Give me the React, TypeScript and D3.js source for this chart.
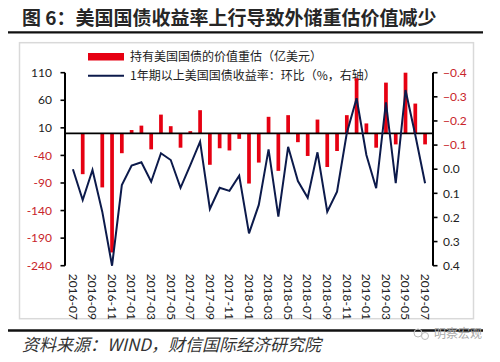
import React from "react";
import * as d3 from "d3";

// 月份 (2016-07 ~ 2019-07)
const months = [
  "2016-07", "2016-08", "2016-09", "2016-10", "2016-11", "2016-12",
  "2017-01", "2017-02", "2017-03", "2017-04", "2017-05", "2017-06",
  "2017-07", "2017-08", "2017-09", "2017-10", "2017-11", "2017-12",
  "2018-01", "2018-02", "2018-03", "2018-04", "2018-05", "2018-06",
  "2018-07", "2018-08", "2018-09", "2018-10", "2018-11", "2018-12",
  "2019-01", "2019-02", "2019-03", "2019-04", "2019-05", "2019-06",
  "2019-07",
];

// 持有美国国债的价值重估（亿美元）
const revaluation = [
  0, -74, 0, -98, -216, -36, 6, 14, -29, 34, 13, -26, 4, 42, -57, -27, -31,
  -10, -91, -53, 30, -68, 33, -16, -41, 25, -61, -32, 33, 100, 18, -26, 92,
  -20, 110, 54, -20,
];

// 1年期以上美国国债收益率：环比（%，右轴）
const yieldChange = [
  0.0, 0.128, 0.003, 0.176, 0.4, 0.066, -0.015, -0.029, 0.052, -0.066, -0.038,
  0.077, -0.017, -0.114, 0.165, 0.077, 0.09, 0.027, 0.266, 0.148, -0.082,
  0.197, -0.093, 0.049, 0.118, -0.07, 0.176, 0.093, -0.15, -0.294, -0.059,
  0.079, -0.277, 0.058, -0.328, -0.142, 0.058,
];

const leftTicks = [110, 60, 10, -40, -90, -140, -190, -240];
const rightTicks = [-0.4, -0.3, -0.2, -0.1, 0, 0.1, 0.2, 0.3, 0.4];

const title = "图 6：美国国债收益率上行导致外储重估价值减少";
const legendBar = "持有美国国债的价值重估（亿美元）";
const legendLine = "1年期以上美国国债收益率：环比（%，右轴）";
const source = "资料来源：WIND，财信国际经济研究院";

const RED = "#e60012";
const NAVY = "#0c1a4b";
const LABEL_RED = "#c8242b";
const cjk = "'Noto Sans CJK SC', sans-serif";
const num = "Lato, 'Liberation Sans', sans-serif";

const App = () => {
  const left = 65;
  const right = 433;
  const top = 72.7;
  const bottom = 265.7;

  const x = d3.scaleBand().domain(months).range([left, right]).padding(0.62);
  const y = d3.scaleLinear().domain([-240, 110]).range([bottom, top]);
  const y2 = d3.scaleLinear().domain([-0.4, 0.4]).range([top, bottom]);
  const cx = (m: string) => (x(m) as number) + x.bandwidth() / 2;

  const line = d3
    .line<number>()
    .x((_, i) => cx(months[i]))
    .y((d) => y2(d));

  const fmt = d3.format(".1f");

  return (
    <svg
      width={500}
      height={362}
      style={{ position: "absolute", left: 0, top: 0, background: "#fff" }}
    >
      {/* 标题 */}
      <text
        x={22}
        y={25}
        fontFamily={cjk}
        fontSize={19}
        fontWeight={600}
        fill="#262626"
      >
        {title}
      </text>
      <line x1={8} x2={483} y1={32.3} y2={32.3} stroke="#111" strokeWidth={2.2} />

      {/* 图框 */}
      <rect x={19.5} y={42.7} width={454} height={276} fill="none" stroke="#d9d9d9" strokeWidth={1.5} />

      {/* 图例 */}
      <rect x={88} y={53} width={36} height={7.5} fill={RED} />
      <text x={130} y={61} fontFamily={cjk} fontSize={12} fill="#222">
        {legendBar}
      </text>
      <line x1={88} x2={124} y1={75.7} y2={75.7} stroke={NAVY} strokeWidth={2} />
      <text x={130} y={80} fontFamily={cjk} fontSize={12} fill="#222">
        {legendLine}
      </text>

      {/* 柱 */}
      {revaluation.map((v, i) => (
        <rect
          key={months[i]}
          x={x(months[i])}
          width={x.bandwidth()}
          y={Math.min(y(v), y(0))}
          height={Math.abs(y(v) - y(0))}
          fill={RED}
        />
      ))}

      {/* 零线 */}
      <line x1={left} x2={right} y1={y(0)} y2={y(0)} stroke="#000" strokeWidth={1.6} />

      {/* 折线 */}
      <path d={line(yieldChange) || ""} fill="none" stroke={NAVY} strokeWidth={2} strokeLinejoin="miter" />

      {/* 左轴 */}
      <line x1={left} x2={left} y1={top} y2={bottom} stroke="#000" strokeWidth={2} />
      {leftTicks.map((t) => (
        <g key={t}>
          <line x1={left - 4.5} x2={left} y1={y(t)} y2={y(t)} stroke="#000" strokeWidth={1.6} />
          <text
            x={52}
            y={y(t)}
            dy="0.35em"
            textAnchor="end"
            fontFamily={num}
            fontSize={12}
            fill={t < 0 ? LABEL_RED : "#222"}
          >
            {t}
          </text>
        </g>
      ))}

      {/* 右轴 */}
      <line x1={right} x2={right} y1={top} y2={bottom} stroke="#000" strokeWidth={2} />
      {rightTicks.map((t) => (
        <g key={t}>
          <line x1={right} x2={right + 4.5} y1={y2(t)} y2={y2(t)} stroke="#000" strokeWidth={1.6} />
          <text
            x={443}
            y={y2(t)}
            dy="0.35em"
            fontFamily={num}
            fontSize={12}
            fill={t < 0 ? LABEL_RED : "#222"}
          >
            {fmt(t)}
          </text>
        </g>
      ))}

      {/* X轴标签 */}
      {months
        .filter((_, i) => i % 2 === 0)
        .map((m) => (
          <text
            key={m}
            transform={`translate(${cx(m)},${bottom + 8}) rotate(90)`}
            dy="0.35em"
            fontFamily={num}
            fontSize={12}
            fill="#222"
          >
            {m}
          </text>
        ))}

      {/* 资料来源 */}
      <line x1={8} x2={483} y1={330.5} y2={330.5} stroke="#111" strokeWidth={2.3} />
      <text
        x={22}
        y={351}
        fontFamily={cjk}
        fontSize={17}
        fontStyle="italic"
        fill="#333"
      >
        {source}
      </text>
      <g fill="none" stroke="#bbb" strokeWidth={1}>
        <circle cx={418} cy={333} r={4} />
        <circle cx={425} cy={336} r={3.5} />
      </g>
      <text x={434} y={338} fontFamily={cjk} fontSize={12} fill="#aaa">
        明察宏观
      </text>
    </svg>
  );
};

export default App;
